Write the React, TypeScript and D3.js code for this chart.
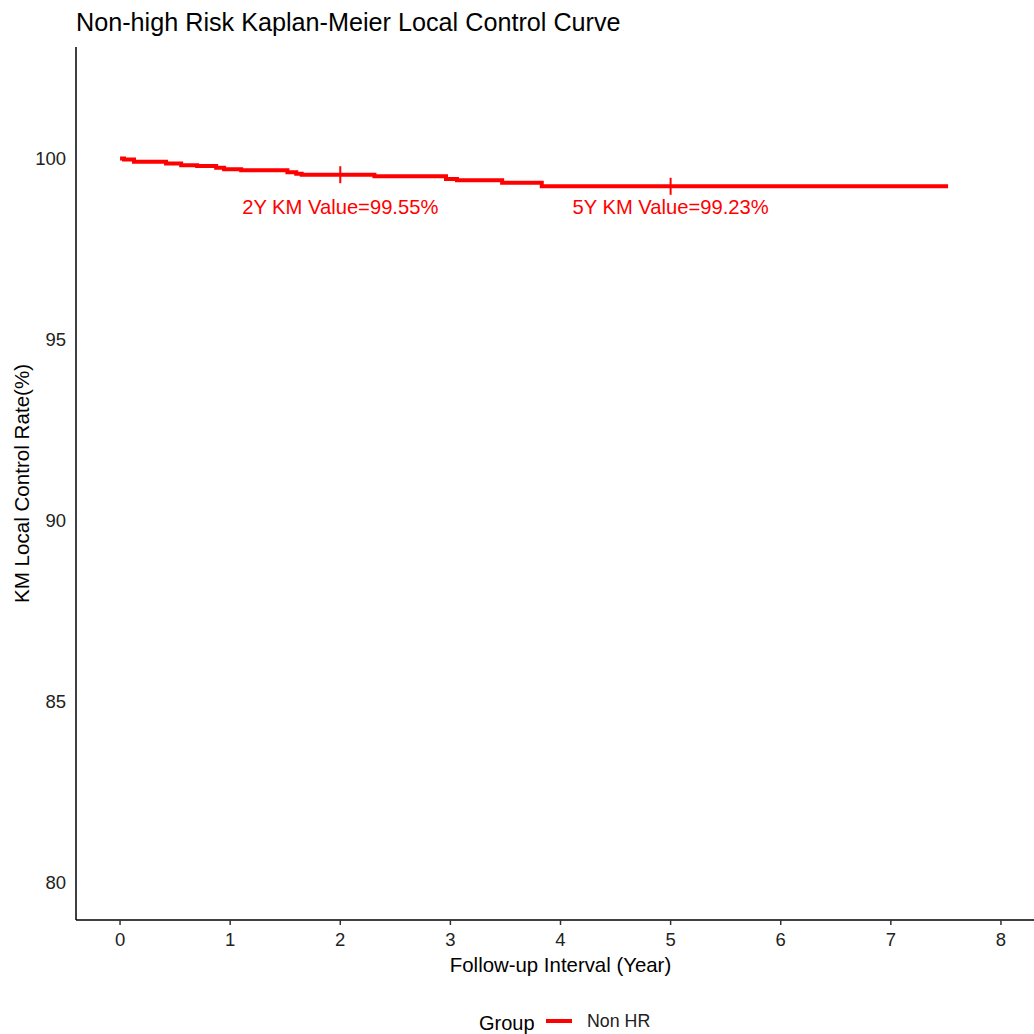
import React from "react";
import * as d3 from "d3";

const title = "Non-high Risk Kaplan-Meier Local Control Curve";
const xLabel = "Follow-up Interval (Year)";
const yLabel = "KM Local Control Rate(%)";
const groupName = "Non HR";
const legendTitle = "Group";

// KM step curve: time (years) and survival (%)
const kmTimes = [0, 0.036, 0.127, 0.418, 0.555, 0.70, 0.873, 0.945, 1.10, 1.52, 1.60, 1.65, 2.31, 2.96, 3.06, 3.47, 3.83, 7.52];
const kmValues = [100, 99.97, 99.91, 99.86, 99.81, 99.79, 99.74, 99.70, 99.67, 99.62, 99.58, 99.55, 99.51, 99.43, 99.40, 99.33, 99.23, 99.23];

const markTimes = [2, 5];
const markValues = [99.55, 99.23];
const markLabels = ["2Y KM Value=99.55%", "5Y KM Value=99.23%"];

const xTicks = [0, 1, 2, 3, 4, 5, 6, 7, 8];
const yTicks = [80, 85, 90, 95, 100];

const FONT = "'Liberation Sans', Arial, sans-serif";

export default function App() {
  const W = 1034, H = 1034;
  const left = 76, top = 47, bottom = 920, rightEdge = 1045;
  const x = d3.scaleLinear().domain([-0.4, 8.4]).range([left, rightEdge]);
  const y = d3.scaleLinear().domain([78.95, 103.08]).range([bottom, top]);

  const pts: [number, number][] = kmTimes.map((t, i) => [t, kmValues[i]]);
  const line = d3
    .line<[number, number]>()
    .x((d) => x(d[0]))
    .y((d) => y(d[1]))
    .curve(d3.curveStepAfter);

  return (
    <svg
      width={W}
      height={H}
      style={{ position: "absolute", left: 0, top: 0, background: "#fff" }}
      fontFamily={FONT}
    >
      <rect x={0} y={0} width={W} height={H} fill="#fff" />
      <text x={76} y={31} fontSize={25.2} fill="#000">
        {title}
      </text>

      {/* axes */}
      <line x1={left} x2={W} y1={bottom} y2={bottom} stroke="#000" strokeWidth={1.5} />
      <line x1={left} x2={left} y1={top} y2={bottom} stroke="#000" strokeWidth={1.5} />

      {xTicks.map((t) => (
        <g key={"xt" + t}>
          <line x1={x(t)} x2={x(t)} y1={bottom} y2={bottom + 5} stroke="#333" strokeWidth={1.5} />
          <text x={x(t)} y={bottom + 26} fontSize={18.5} textAnchor="middle" fill="#222">
            {t}
          </text>
        </g>
      ))}
      {yTicks.map((v) => (
        <text key={"yt" + v} x={66} y={y(v) + 7} fontSize={18.5} textAnchor="end" fill="#222">
          {v}
        </text>
      ))}

      <text x={(left + rightEdge) / 2} y={972} fontSize={20.4} textAnchor="middle" fill="#000">
        {xLabel}
      </text>
      <text
        transform={`translate(29, ${(top + bottom) / 2}) rotate(-90)`}
        fontSize={20.6}
        textAnchor="middle"
        fill="#000"
      >
        {yLabel}
      </text>

      {/* curve */}
      <path d={line(pts) || ""} fill="none" stroke="#ff0000" strokeWidth={4} />

      {markTimes.map((t, i) => (
        <g key={"m" + i}>
          <line
            x1={x(t)}
            x2={x(t)}
            y1={y(markValues[i]) - 8.5}
            y2={y(markValues[i]) + 8.5}
            stroke="#ff0000"
            strokeWidth={2}
          />
          <text x={x(t)} y={214} fontSize={20.2} textAnchor="middle" fill="#ff0000">
            {markLabels[i]}
          </text>
        </g>
      ))}

      {/* legend */}
      <text x={479} y={1030} fontSize={20} fill="#000">
        {legendTitle}
      </text>
      <line x1={546} x2={572} y1={1021} y2={1021} stroke="#ff0000" strokeWidth={4} />
      <text x={587} y={1027} fontSize={17.8} fill="#222">
        {groupName}
      </text>
    </svg>
  );
}
